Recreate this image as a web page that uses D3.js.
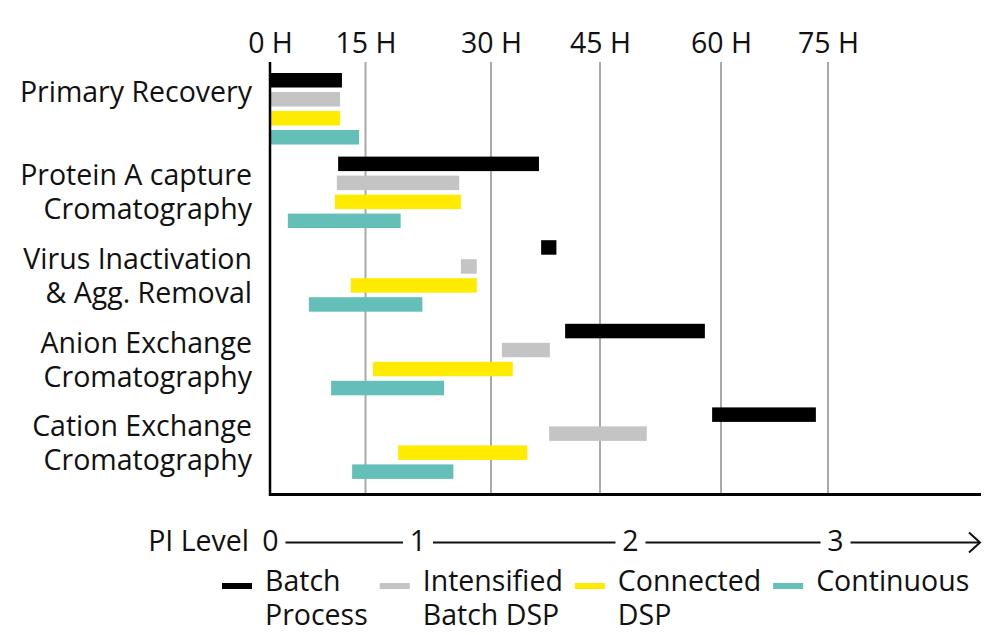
<!DOCTYPE html>
<html>
<head>
<meta charset="utf-8">
<script src="https://cdn.jsdelivr.net/npm/d3@7"></script>
<style>
  body { margin: 0; background: #fff; }
  svg { display: block; }
  text { font-family: "Open Sans", Lato, sans-serif; fill: #111; }
</style>
</head>
<body>
<svg id="chart" width="985" height="635"></svg>
<script>
// ---------- data ----------
const categories = ["Primary Recovery", "Protein A capture", "Virus Inactivation", "Anion Exchange", "Cation Exchange"];
const categoryLines = [
  ["Primary Recovery"],
  ["Protein A capture", "Cromatography"],
  ["Virus Inactivation", "& Agg. Removal"],
  ["Anion Exchange", "Cromatography"],
  ["Cation Exchange", "Cromatography"]
];
const seriesNames = ["Batch Process", "Intensified Batch DSP", "Connected DSP", "Continuous"];
const seriesLines = [["Batch", "Process"], ["Intensified", "Batch DSP"], ["Connected", "DSP"], ["Continuous"]];

// start / end hours per category
const batchStart       = [0,    10.7, 36.9, 40.2, 58.9];
const batchEnd         = [11.3, 36.6, 39.0, 58.0, 73.3];
const intensifiedStart = [0,    10.5, 26.4, 31.5, 38.0];
const intensifiedEnd   = [11.0, 26.2, 28.3, 38.1, 50.8];
const connectedStart   = [0,    10.2, 12.7, 15.9, 18.9];
const connectedEnd     = [11.0, 26.4, 28.3, 33.0, 35.0];
const continuousStart  = [0,    2.8,  6.1,  9.6,  12.9];
const continuousEnd    = [14.0, 19.2, 21.8, 24.4, 25.5];

const hourTicks = [0, 15, 30, 45, 60, 75];
const piLevels = [0, 1, 2, 3];

// ---------- styles / layout ----------
const colors = ["#000000", "#c4c4c4", "#ffeb00", "#63bfb8"];
const FONT = 28.5;
const FAMILY = "'Open Sans', Lato, sans-serif";

const starts = [batchStart, intensifiedStart, connectedStart, continuousStart];
const ends = [batchEnd, intensifiedEnd, connectedEnd, continuousEnd];
const bars = [];
seriesNames.forEach((s, j) => {
  categories.forEach((c, i) => {
    bars.push({ series: s, cat: c, start: starts[j][i], end: ends[j][i], color: colors[j] });
  });
});

const svg = d3.select("#chart");

// hand-drawn, unevenly spaced hour axis -> piecewise linear scale
const x = d3.scaleLinear().domain(hourTicks).range([270, 365.5, 491, 600, 721, 828]);
const yGroup = d3.scaleBand().domain(categories).range([66, 484]).paddingInner(0).paddingOuter(0);
const yInner = d3.scaleBand().domain(seriesNames).range([7, 78.5]).paddingInner(4.5 / 19).paddingOuter(0);

const plotTop = 62, plotBottom = 494.5, plotRight = 981;

// gridlines
svg.append("g")
  .selectAll("line")
  .data(hourTicks.filter(d => d > 0))
  .join("line")
  .attr("x1", d => x(d)).attr("x2", d => x(d))
  .attr("y1", plotTop).attr("y2", plotBottom)
  .attr("stroke", "#a9a9a9").attr("stroke-width", 2);

// top axis labels
const topAxis = svg.append("g")
  .attr("transform", "translate(0,53)")
  .call(d3.axisTop(x).tickValues(hourTicks).tickFormat(d => d + " H").tickSize(0).tickPadding(0));
topAxis.select(".domain").remove();
topAxis.selectAll("text")
  .attr("font-size", FONT)
  .attr("font-family", FAMILY)
  .attr("fill", "#111");

// bars
svg.append("g")
  .selectAll("rect")
  .data(bars)
  .join("rect")
  .attr("x", d => x(d.start))
  .attr("width", d => x(d.end) - x(d.start))
  .attr("y", d => yGroup(d.cat) + yInner(d.series))
  .attr("height", yInner.bandwidth())
  .attr("fill", d => d.color);

// axis lines
svg.append("line")
  .attr("x1", 270).attr("x2", 270).attr("y1", plotTop).attr("y2", plotBottom + 1.5)
  .attr("stroke", "#000").attr("stroke-width", 2.5);
svg.append("line")
  .attr("x1", 269).attr("x2", plotRight).attr("y1", plotBottom).attr("y2", plotBottom)
  .attr("stroke", "#000").attr("stroke-width", 3);

// category labels
const catG = svg.append("g");
categories.forEach((c, i) => {
  const yc = yGroup(c) + 7 + 71.5 / 2;
  const t = catG.append("text")
    .attr("x", 252)
    .attr("text-anchor", "end")
    .attr("font-size", FONT);
  categoryLines[i].forEach((line, k) => {
    t.append("tspan").attr("x", 252).attr("y", yc - 7 + k * 34).text(line);
  });
});

// PI level row
const pi = d3.scaleLinear().domain(piLevels).range([270.5, 418, 630.5, 835.5]);
const piY = 551, piLineY = 542.5;
svg.append("text").attr("x", 249).attr("y", piY).attr("text-anchor", "end")
  .attr("font-size", FONT).text("PI Level");
svg.append("g").selectAll("text").data(piLevels).join("text")
  .attr("x", d => pi(d)).attr("y", piY).attr("text-anchor", "middle")
  .attr("font-size", FONT).text(d => d);
svg.append("g").selectAll("line").data(piLevels).join("line")
  .attr("x1", d => pi(d) + 15)
  .attr("x2", d => d < piLevels[piLevels.length - 1] ? pi(d + 1) - 15 : 979)
  .attr("y1", piLineY).attr("y2", piLineY)
  .attr("stroke", "#111").attr("stroke-width", 2);
svg.append("path")
  .attr("d", `M969,${piLineY - 10}L980,${piLineY}L969,${piLineY + 10}`)
  .attr("fill", "none").attr("stroke", "#111").attr("stroke-width", 2);

// legend
const legG = svg.append("g");
let lx = 222;
const legBase = 591;
seriesNames.forEach((s, j) => {
  legG.append("rect")
    .attr("x", lx).attr("y", legBase - 8).attr("width", 30).attr("height", 6)
    .attr("fill", colors[j]);
  const t = legG.append("text").attr("font-size", FONT);
  seriesLines[j].forEach((line, k) => {
    t.append("tspan").attr("x", lx + 43).attr("y", legBase + k * 34).text(line);
  });
  const w = d3.max(t.selectAll("tspan").nodes(), n => n.getComputedTextLength());
  lx = lx + 43 + w + 12;
});
</script>
</body>
</html>
